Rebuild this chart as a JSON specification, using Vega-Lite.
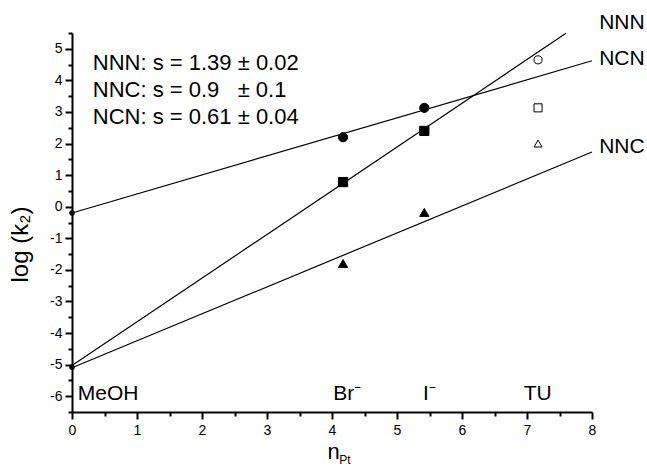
{
  "$schema": "https://vega.github.io/schema/vega-lite/v6.json",
  "width": 520,
  "height": 379,
  "autosize": {"type": "none"},
  "padding": {"left": 72, "top": 33, "right": 55, "bottom": 54},
  "background": "white",
  "config": {
    "view": {"stroke": null},
    "font": "Liberation Sans"
  },
  "datasets": {
    "fits": [
      {"series": "NCN", "x": 0, "y": -0.2},
      {"series": "NCN", "x": 8, "y": 4.62},
      {"series": "NNN", "x": 0, "y": -5.03},
      {"series": "NNN", "x": 7.6, "y": 5.49},
      {"series": "NNC", "x": 0, "y": -5.1},
      {"series": "NNC", "x": 8, "y": 1.73}
    ],
    "points": [
      {"series": "NCN", "nucleophile": "MeOH", "x": 0, "y": -0.2},
      {"series": "NCN", "nucleophile": "Br", "x": 4.17, "y": 2.2},
      {"series": "NCN", "nucleophile": "I", "x": 5.42, "y": 3.13},
      {"series": "NCN", "nucleophile": "TU", "x": 7.17, "y": 4.65},
      {"series": "NNN", "nucleophile": "MeOH", "x": 0, "y": -5.08},
      {"series": "NNN", "nucleophile": "Br", "x": 4.17, "y": 0.78},
      {"series": "NNN", "nucleophile": "I", "x": 5.42, "y": 2.4},
      {"series": "NNN", "nucleophile": "TU", "x": 7.17, "y": 3.13},
      {"series": "NNC", "nucleophile": "Br", "x": 4.17, "y": -1.8},
      {"series": "NNC", "nucleophile": "I", "x": 5.42, "y": -0.18},
      {"series": "NNC", "nucleophile": "TU", "x": 7.17, "y": 2.0}
    ],
    "notes": [
      {"x": 0.32, "y": 4.33, "t": "NNN: s = 1.39 ± 0.02"},
      {"x": 0.32, "y": 3.48, "t": "NNC: s = 0.9\u00a0\u00a0\u00a0± 0.1"},
      {"x": 0.32, "y": 2.62, "t": "NCN: s = 0.61 ± 0.04"}
    ],
    "serieslabels": [
      {"x": 8.11, "y": 5.63, "t": "NNN"},
      {"x": 8.11, "y": 4.49, "t": "NCN"},
      {"x": 8.11, "y": 1.7, "t": "NNC"}
    ],
    "nuclabels": [
      {"x": 0.09, "y": -6.11, "t": "MeOH"},
      {"x": 4.02, "y": -6.11, "t": "Br⁻"},
      {"x": 5.4, "y": -6.11, "t": "I⁻"},
      {"x": 6.95, "y": -6.13, "t": "TU"}
    ],
    "subscript": [
      {"x": 4.11, "y": -8.14, "t": "Pt"}
    ]
  },
  "encoding": {
    "x": {
      "field": "x", "type": "quantitative",
      "scale": {"domain": [0, 8], "nice": false},
      "axis": {
        "values": [0, 0.5, 1, 1.5, 2, 2.5, 3, 3.5, 4, 4.5, 5, 5.5, 6, 6.5, 7, 7.5, 8],
        "labelExpr": "datum.value % 1 === 0 ? '' + datum.value : ''",
        "grid": false,
        "domainColor": "black",
        "domainWidth": 2,
        "tickColor": "black",
        "tickWidth": 2,
        "tickSize": {"condition": {"test": "datum.value % 1 === 0", "value": 7}, "value": 4},
        "labelFont": "Liberation Sans",
        "labelFontSize": 14,
        "labelColor": "black",
        "labelPadding": 4,
        "labelFlush": false,
        "labelOverlap": false,
        "title": "n",
        "titleFont": "Liberation Sans",
        "titleFontSize": 22,
        "titleFontWeight": "normal",
        "titleColor": "black",
        "titleX": 261,
        "titleY": 46,
        "titleAlign": "center",
        "titleBaseline": "alphabetic"
      }
    },
    "y": {
      "field": "y", "type": "quantitative",
      "scale": {"domain": [-6.5, 5.5], "nice": false, "zero": false},
      "axis": {
        "values": [-6.5, -6, -5.5, -5, -4.5, -4, -3.5, -3, -2.5, -2, -1.5, -1, -0.5, 0, 0.5, 1, 1.5, 2, 2.5, 3, 3.5, 4, 4.5, 5, 5.5],
        "labelExpr": "datum.value % 1 === 0 ? '' + datum.value : ''",
        "grid": false,
        "domainColor": "black",
        "domainWidth": 2,
        "tickColor": "black",
        "tickWidth": 2,
        "tickSize": {"condition": {"test": "datum.value % 1 === 0", "value": 7}, "value": 4},
        "labelFont": "Liberation Sans",
        "labelFontSize": 14,
        "labelColor": "black",
        "labelPadding": 3,
        "labelFlush": false,
        "labelOverlap": false,
        "title": "log (k₂)",
        "titleFont": "Liberation Sans",
        "titleFontSize": 24,
        "titleFontWeight": "normal",
        "titleColor": "black",
        "titleX": -45,
        "titleY": 211,
        "titleAngle": -90,
        "titleAlign": "center",
        "titleBaseline": "alphabetic"
      }
    }
  },
  "layer": [
    {
      "data": {"name": "fits"},
      "mark": {"type": "line", "color": "black", "strokeWidth": 1.2},
      "encoding": {
        "detail": {"field": "series"}
      }
    },
    {
      "data": {"name": "points"},
      "transform": [{"filter": "datum.nucleophile === 'MeOH'"}],
      "mark": {"type": "point", "shape": "circle", "filled": true, "color": "black", "size": 30, "opacity": 1},
      "encoding": {}
    },
    {
      "data": {"name": "points"},
      "transform": [{"filter": "datum.nucleophile !== 'MeOH'"}],
      "mark": {"type": "point", "stroke": "black", "strokeWidth": 1, "opacity": 1},
      "encoding": {
        "shape": {
          "field": "series", "type": "nominal",
          "scale": {"domain": ["NCN", "NNN", "NNC"], "range": ["circle", "square", "triangle-up"]},
          "legend": null
        },
        "size": {
          "condition": {"test": "datum.nucleophile === 'TU'", "value": 65},
          "value": 85
        },
        "fill": {
          "condition": {"test": "datum.nucleophile === 'TU'", "value": "white"},
          "value": "black"
        }
      }
    },
    {
      "data": {"name": "notes"},
      "mark": {"type": "text", "align": "left", "baseline": "alphabetic", "fontSize": 22, "color": "black", "font": "Liberation Sans"},
      "encoding": {
        "text": {"field": "t"}
      }
    },
    {
      "data": {"name": "serieslabels"},
      "mark": {"type": "text", "align": "left", "baseline": "alphabetic", "fontSize": 21, "color": "black", "font": "Liberation Sans"},
      "encoding": {
        "text": {"field": "t"}
      }
    },
    {
      "data": {"name": "nuclabels"},
      "mark": {"type": "text", "align": "left", "baseline": "alphabetic", "fontSize": 21, "color": "black", "font": "Liberation Sans"},
      "encoding": {
        "text": {"field": "t"}
      }
    },
    {
      "data": {"name": "subscript"},
      "mark": {"type": "text", "align": "left", "baseline": "alphabetic", "fontSize": 12, "color": "black", "font": "Liberation Sans"},
      "encoding": {
        "text": {"field": "t"}
      }
    }
  ]
}
